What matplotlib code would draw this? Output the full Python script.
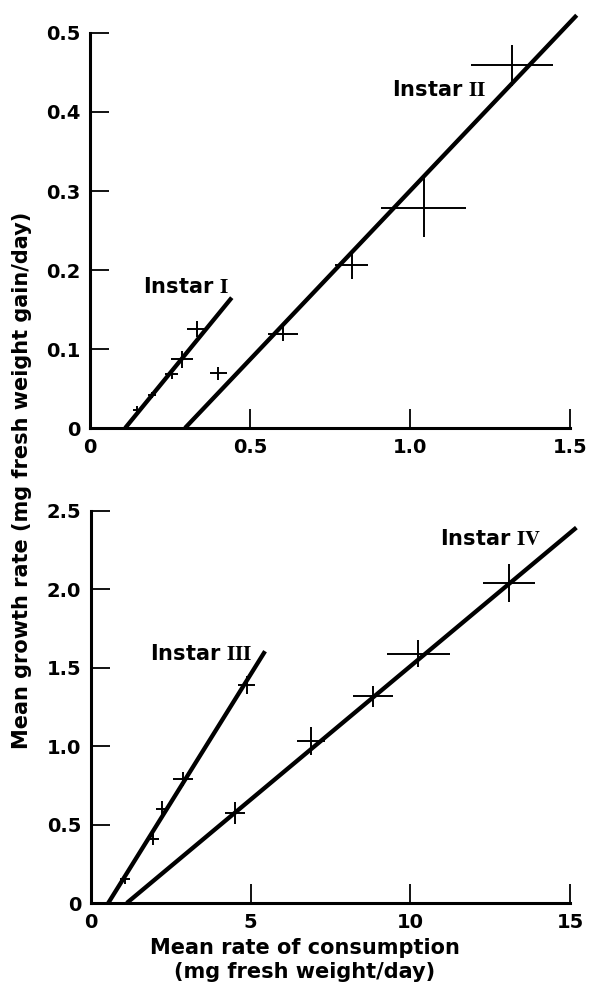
import numpy as np
import matplotlib.pyplot as plt

plt.rcParams['font.family'] = ['DejaVu Sans']
plt.rcParams['font.weight'] = 'bold'
plt.rcParams['mathtext.fontset'] = 'stix'

# top panel: instars I and II
x_i = [0.146, 0.193, 0.255, 0.287, 0.333, 0.401]
y_i = [0.023, 0.042, 0.068, 0.087, 0.125, 0.069]
xerr_i = [0.012, 0.012, 0.02, 0.035, 0.03, 0.026]
yerr_i = [0.005, 0.004, 0.006, 0.011, 0.01, 0.008]

x_ii = [0.603, 0.818, 1.043, 1.32]
y_ii = [0.119, 0.206, 0.279, 0.459]
xerr_ii = [0.047, 0.052, 0.133, 0.128]
yerr_ii = [0.0095, 0.017, 0.0375, 0.026]

fit_i_x = [0.11, 0.443]
fit_i_y = [0.0, 0.165]
fit_ii_x = [0.297, 1.521]
fit_ii_y = [0.0, 0.5225]

# bottom panel: instars III and IV
x_iii = [1.07, 1.95, 2.21, 2.87, 4.87]
y_iii = [0.15, 0.41, 0.60, 0.79, 1.39]
xerr_iii = [0.16, 0.17, 0.18, 0.31, 0.28]
yerr_iii = [0.03, 0.04, 0.048, 0.042, 0.056]

x_iv = [4.51, 6.89, 8.84, 10.25, 13.09]
y_iv = [0.573, 1.034, 1.318, 1.59, 2.04]
xerr_iv = [0.32, 0.43, 0.63, 0.98, 0.82]
yerr_iv = [0.072, 0.09, 0.068, 0.085, 0.12]

fit_iii_x = [0.54, 5.45]
fit_iii_y = [0.0, 1.605]
fit_iv_x = [1.12, 15.2]
fit_iv_y = [0.0, 2.393]

top_xticks = [0, 0.5, 1.0, 1.5]
top_xlabels = ['0', '0.5', '1.0', '1.5']
top_yticks = [0, 0.1, 0.2, 0.3, 0.4, 0.5]
top_ylabels = ['0', '0.1', '0.2', '0.3', '0.4', '0.5']
bot_xticks = [0, 5, 10, 15]
bot_xlabels = ['0', '5', '10', '15']
bot_yticks = [0, 0.5, 1.0, 1.5, 2.0, 2.5]
bot_ylabels = ['0', '0.5', '1.0', '1.5', '2.0', '2.5']

fig = plt.figure(figsize=(6, 9.88), dpi=100)
ax1 = fig.add_axes([0.15, 0.5668, 0.8, 0.3998])
ax2 = fig.add_axes([0.1517, 0.086, 0.7983, 0.397])


def style(ax, xt, xl, yt, yl):
    ax.set_xlim(xt[0], xt[-1])
    ax.set_ylim(yt[0], yt[-1])
    ax.set_xticks(xt)
    ax.set_xticklabels(xl)
    ax.set_yticks(yt)
    ax.set_yticklabels(yl)
    for s in ['top', 'right']:
        ax.spines[s].set_visible(False)
    for s in ['left', 'bottom']:
        ax.spines[s].set_linewidth(2.2)
    ax.tick_params(direction='in', length=14, width=1.3, labelsize=14, pad=7)


def draw(ax, x, y, xe, ye, fx, fy):
    ax.errorbar(x, y, xerr=xe, yerr=ye, fmt='none', ecolor='black',
                elinewidth=1.4, capsize=0, clip_on=False)
    ax.plot(fx, fy, color='black', lw=3.1, clip_on=False,
            solid_capstyle='butt')


draw(ax1, x_i, y_i, xerr_i, yerr_i, fit_i_x, fit_i_y)
draw(ax1, x_ii, y_ii, xerr_ii, yerr_ii, fit_ii_x, fit_ii_y)
draw(ax2, x_iii, y_iii, xerr_iii, yerr_iii, fit_iii_x, fit_iii_y)
draw(ax2, x_iv, y_iv, xerr_iv, yerr_iv, fit_iv_x, fit_iv_y)

style(ax1, top_xticks, top_xlabels, top_yticks, top_ylabels)
style(ax2, bot_xticks, bot_xlabels, bot_yticks, bot_ylabels)

ax1.text(0.166, 0.178, r'Instar $\mathbf{I}$', fontsize=15, va='center')
ax1.text(0.944, 0.428, r'Instar $\mathbf{II}$', fontsize=15, va='center')
ax2.text(1.85, 1.59, r'Instar $\mathbf{III}$', fontsize=15, va='center')
ax2.text(10.93, 2.32, r'Instar $\mathbf{IV}$', fontsize=15, va='center')

fig.text(0.037, 0.514, 'Mean growth rate (mg fresh weight gain/day)',
         rotation=90, ha='center', va='center', fontsize=15)
fig.text(0.508, 0.028, 'Mean rate of consumption\n(mg fresh weight/day)',
         ha='center', va='center', fontsize=15, linespacing=1.25)

fig.savefig('out.png', dpi=100)
